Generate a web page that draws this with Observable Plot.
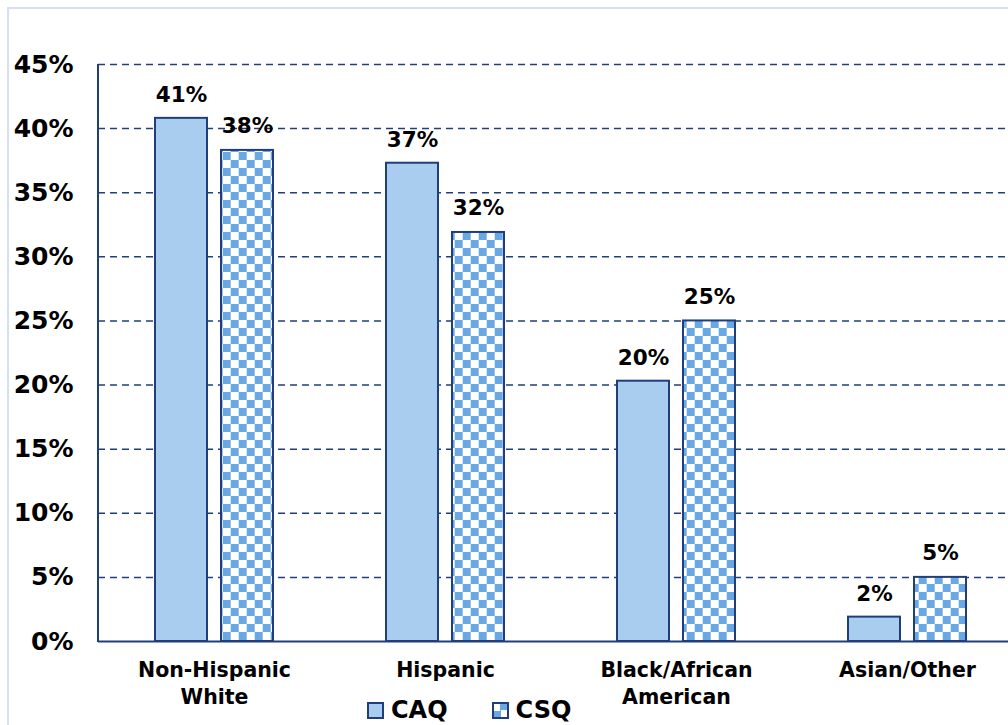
<!DOCTYPE html>
<html>
<head>
<meta charset="utf-8">
<script src="https://cdn.jsdelivr.net/npm/d3@7"></script>
<script src="https://cdn.jsdelivr.net/npm/@observablehq/plot@0.6"></script>
<style>
  body { margin: 0; background: #fff; }
  #wrap { position: relative; width: 1008px; height: 725px; overflow: hidden; font-family: "DejaVu Sans", Verdana, sans-serif; }
  #border { position: absolute; left: 7px; top: 7px; width: 1030px; height: 760px; border: 2px solid #d5e0f2; box-sizing: border-box; pointer-events: none; }
  #chart { position: absolute; left: 0; top: 0; }
  #legend { position: absolute; left: 367px; top: 696px; display: flex; align-items: center; font-weight: bold; font-size: 24px; color: #000; }
  .item { display: flex; align-items: center; }
  .item + .item { margin-left: 44px; }
  .sw { width: 13px; height: 13px; border: 2px solid #203f7a; margin-right: 7px; }
</style>
</head>
<body>
<div id="wrap">
  <div id="chart"></div>
  <div id="border"></div>
  <div id="legend"></div>
</div>
<script>
// Share of respondents by race/ethnicity, CAQ vs CSQ
const categories = ["Non-Hispanic\nWhite", "Hispanic", "Black/African\nAmerican", "Asian/Other"];
const seriesNames = ["CAQ", "CSQ"];
const caqValues = [40.8, 37.3, 20.3, 1.9];
const csqValues = [38.3, 31.9, 25.0, 5.0];
const yTicks = [0, 5, 10, 15, 20, 25, 30, 35, 40, 45];

const navy = "#203f7a";
const lightBlue = "#a8cdef";
const checkBlue = "#6aa8e3";

const rows = categories.flatMap((c, i) => [
  {category: c, series: seriesNames[0], value: caqValues[i]},
  {category: c, series: seriesNames[1], value: csqValues[i]}
]);
const caqRows = rows.filter(d => d.series === "CAQ");
const csqRows = rows.filter(d => d.series === "CSQ");

const marginLeft = 98;
const inset = 66;      // half of each category band is taken by one series
const offset = 33;     // label shift from the band centre to each bar centre

const chart = Plot.plot({
  width: 1008,
  height: 725,
  marginLeft,
  marginRight: 0,
  marginTop: 64,
  marginBottom: 84,
  style: {fontFamily: "'DejaVu Sans', Verdana, sans-serif", background: "transparent", color: "#000"},
  x: {domain: categories, range: [marginLeft, 1023], paddingInner: 0.49, paddingOuter: 0.245, axis: null, label: null},
  y: {domain: [0, 45], axis: null, label: null},
  marks: [
    Plot.ruleY(yTicks.filter(d => d > 0), {stroke: navy, strokeWidth: 1.5, strokeDasharray: "7,5"}),
    Plot.barY(caqRows, {x: "category", y: "value", fill: lightBlue, stroke: navy, strokeWidth: 2, insetRight: inset}),
    Plot.barY(csqRows, {x: "category", y: "value", fill: "url(#checker)", stroke: navy, strokeWidth: 2, insetLeft: inset}),
    Plot.ruleY([0], {stroke: navy, strokeWidth: 2}),
    Plot.text(caqRows, {x: "category", y: "value", text: d => Math.round(d.value) + "%", dx: -offset, dy: -23,
      fontSize: 21.5, fontWeight: "bold", fill: "#000"}),
    Plot.text(csqRows, {x: "category", y: "value", text: d => Math.round(d.value) + "%", dx: offset, dy: -24,
      fontSize: 21.5, fontWeight: "bold", fill: "#000"}),
    Plot.axisY({ticks: yTicks, tickSize: 0, tickPadding: 25, tickFormat: d => d + "%", label: null,
      fontSize: 25, fontWeight: "bold", fill: "#000"}),
    Plot.axisX({tickSize: 0, tickPadding: 17, label: null, fontSize: 20.5, fontWeight: "bold", fill: "#000", lineHeight: 1.3})
  ]
});

// checkerboard fill used by the CSQ bars
const svg = d3.select(chart);
const pat = svg.insert("defs", ":first-child").append("pattern")
  .attr("id", "checker").attr("patternUnits", "userSpaceOnUse")
  .attr("x", 6.7).attr("y", 0).attr("width", 16).attr("height", 16);
pat.append("rect").attr("width", 16).attr("height", 16).attr("fill", "#fff");
pat.append("rect").attr("width", 8).attr("height", 8).attr("fill", checkBlue);
pat.append("rect").attr("x", 8).attr("y", 8).attr("width", 8).attr("height", 8).attr("fill", checkBlue);

// left axis line
const yr = chart.scale("y").range;
svg.append("line")
  .attr("x1", marginLeft).attr("x2", marginLeft)
  .attr("y1", yr[0] + 1).attr("y2", yr[1])
  .attr("stroke", navy).attr("stroke-width", 2);

document.getElementById("chart").appendChild(chart);

// legend
const legend = d3.select("#legend");
const swatches = [
  lightBlue,
  `conic-gradient(${checkBlue} 25%, #fff 0 50%, ${checkBlue} 0 75%, #fff 0) 0 0/13px 13px`
];
seriesNames.forEach((name, i) => {
  const item = legend.append("div").attr("class", "item");
  item.append("div").attr("class", "sw").style("background", swatches[i]);
  item.append("span").text(name);
});
</script>
</body>
</html>
